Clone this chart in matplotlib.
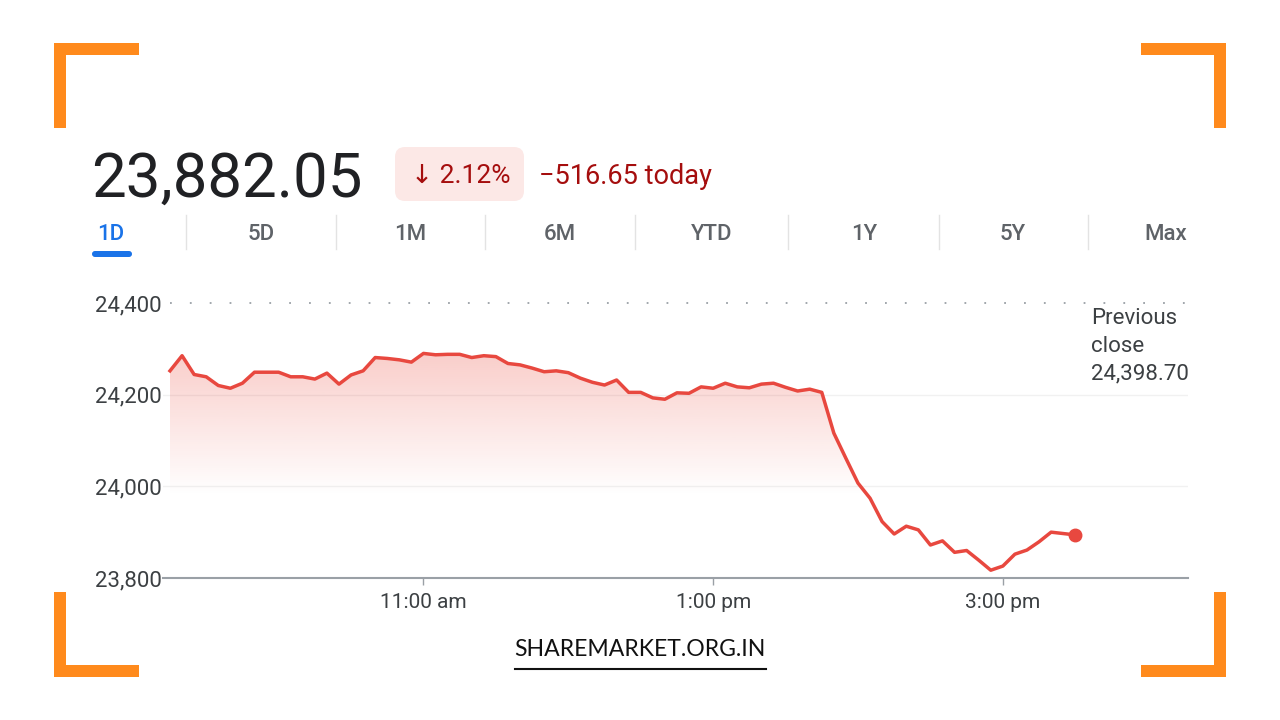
import matplotlib.pyplot as plt
import numpy as np
from matplotlib.patches import FancyBboxPatch, Rectangle, Polygon

# ---- data (5-minute closes, 9:15 am to 3:30 pm) ----
minutes = list(range(0, 380, 5))   # minutes after 9:15
values = [24252, 24285, 24244, 24239, 24220, 24214, 24225, 24249, 24249, 24249,
          24239, 24239, 24234, 24247, 24223, 24243, 24252, 24281, 24279, 24276,
          24271, 24290, 24287, 24288, 24288, 24281, 24285, 24283, 24268, 24265,
          24258, 24250, 24252, 24248, 24236, 24227, 24221, 24232, 24205, 24205,
          24193, 24190, 24204, 24203, 24217, 24214, 24225, 24217, 24215, 24223,
          24225, 24216, 24208, 24212, 24205, 24116, 24061, 24007, 23974, 23923,
          23896, 23913, 23905, 23872, 23881, 23856, 23860, 23839, 23817, 23826,
          23852, 23861, 23879, 23900, 23897, 23894]
prev_close = 24398.70
yticks = [23800, 24000, 24200, 24400]
ytick_labels = ["23,800", "24,000", "24,200", "24,400"]
xticks = [105, 225, 345]
xtick_labels = ["11:00 am", "1:00 pm", "3:00 pm"]
tabs = ["1D", "5D", "1M", "6M", "YTD", "1Y", "5Y", "Max"]
tab_x = [111, 261, 410, 560, 712, 864, 1013, 1166]

RED = "#e8483f"
DARK = "#3c4043"
GREY = "#5f6368"
ORANGE = "#ff8a1c"
FONT = ["Roboto", "DejaVu Sans"]

fig = plt.figure(figsize=(12.8, 7.2), dpi=100)
fig.patch.set_facecolor("white")

# background layer in pixel coordinates
bg = fig.add_axes([0, 0, 1, 1])
bg.set_xlim(0, 1280)
bg.set_ylim(720, 0)
bg.axis("off")

# orange corner brackets
t, arm = 12, 85
for (cx, cy, sx, sy) in [(54, 43, 1, 1), (1226, 43, -1, 1), (54, 677, 1, -1), (1226, 677, -1, -1)]:
    bg.add_patch(Rectangle((cx, cy), sx * arm, sy * t, color=ORANGE, lw=0))
    bg.add_patch(Rectangle((cx, cy), sx * t, sy * arm, color=ORANGE, lw=0))

# header
bg.text(91, 197, "23,882.05", fontsize=44.5, color="#202124", family=FONT, va="baseline", ha="left")
bg.add_patch(FancyBboxPatch((395, 147), 129, 54, boxstyle="round,pad=0,rounding_size=10",
                            fc="#fce8e6", ec="none"))
bg.text(461, 176, "↓ 2.12%", fontsize=19, color="#a50e0e", family=FONT, va="center", ha="center")
bg.text(539, 176, "−516.65 today", fontsize=19.5, color="#a50e0e", family=FONT, va="center", ha="left")

# range tabs
for lab, x in zip(tabs, tab_x):
    bg.text(x, 234, lab, fontsize=16, color="#1a73e8" if lab == "1D" else GREY,
            family=FONT, va="center", ha="center", weight="medium")
for x in [186, 336, 485, 635, 788, 939, 1088]:
    bg.plot([x, x], [215, 249], color="#e3e3e3", lw=1)
bg.add_patch(FancyBboxPatch((92, 251), 40, 6, boxstyle="round,pad=0,rounding_size=3",
                            fc="#1a73e8", ec="none"))

# previous close label
for y, s in zip([318, 346, 374], ["Previous", "close", "24,398.70"]):
    bg.text(1091, y, s, fontsize=16, color=DARK, family=FONT, va="center", ha="left")

# footer
bg.text(640, 650, "SHAREMARKET.ORG.IN", fontsize=16.6, color="#111111", family=["Lato", "DejaVu Sans"],
        va="center", ha="center")
bg.plot([515, 766], [669, 669], color="#111111", lw=1.5)

# ---- chart ----
px = 2.414  # pixels per minute
x0 = (163 - 170) / px
x1 = (1188 - 170) / px
ax = fig.add_axes([163 / 1280, 1 - 578 / 720, (1188 - 163) / 1280, (578 - 290) / 720])
ax.set_facecolor("none")
ymin, ymax = 23800, 24400 + 13 * 600 / 275
ax.set_xlim(x0, x1)
ax.set_ylim(ymin, ymax)

# gradient fill under the line
grad = np.linspace(0, 1, 256).reshape(-1, 1)
alpha = np.clip((grad * (ymax - ymin) + ymin - 23980) / (24300 - 23980), 0, 1) * 0.27
rgba = np.zeros((256, 1, 4))
rgba[..., 0], rgba[..., 1], rgba[..., 2] = 234 / 255, 67 / 255, 53 / 255
rgba[..., 3] = alpha
im = ax.imshow(rgba, extent=[minutes[0], minutes[-1], ymin, ymax], origin="lower",
               aspect="auto", zorder=1)
poly = Polygon(list(zip(minutes, values)) + [(minutes[-1], ymin), (minutes[0], ymin)],
               closed=True, fc="none", ec="none")
ax.add_patch(poly)
im.set_clip_path(poly)

ax.plot(minutes, values, color=RED, lw=2.5, zorder=3)
ax.plot(minutes[-1], values[-1], "o", color=RED, ms=9, zorder=4)

for y in [24000, 24200]:
    ax.axhline(y, color="#f1f1f1", lw=1, zorder=0)
ax.plot([0, x1], [24400, 24400], color="#9aa0a6", lw=1.3, ls=(0, (1, 10)), zorder=2)

for s in ["top", "right", "left"]:
    ax.spines[s].set_visible(False)
ax.spines["bottom"].set_color("#9aa0a6")
ax.spines["bottom"].set_linewidth(1.5)

ax.set_yticks(yticks)
ax.set_yticklabels(ytick_labels, family=FONT, fontsize=16, color=DARK)
ax.tick_params(axis="y", length=0, pad=1)
ax.set_xticks(xticks)
ax.set_xticklabels(xtick_labels, family=FONT, fontsize=15, color=DARK)
ax.tick_params(axis="x", length=5, color="#9aa0a6", width=1, pad=6)

fig.savefig("out.png", dpi=100, facecolor="white")
